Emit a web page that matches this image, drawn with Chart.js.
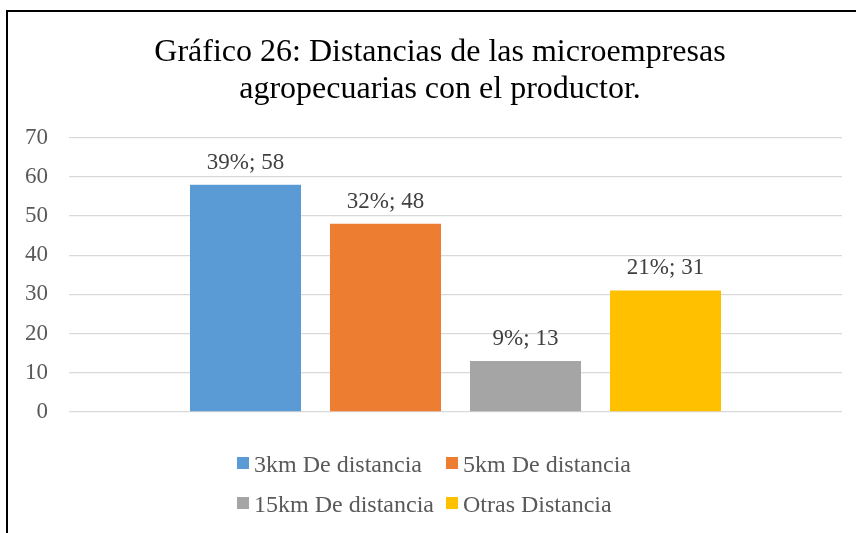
<!DOCTYPE html>
<html>
<head>
<meta charset="utf-8">
<script src="https://cdn.jsdelivr.net/npm/chart.js@4.4.0/dist/chart.umd.min.js"></script>
<style>
  body { margin: 0; background: #fff; overflow: hidden; }
  #wrap { position: relative; width: 856px; height: 533px; }
  #frame { position: absolute; left: 6px; top: 10px; width: 900px; height: 600px; border: 2px solid #000; }
  canvas { position: absolute; left: 0; top: 0; }
</style>
</head>
<body>
<div id="wrap">
  <div id="frame"></div>
  <canvas id="barChart" width="856" height="533"></canvas>
</div>
<script>
// Data
const seriesNames = ["3km De distancia", "5km De distancia", "15km De distancia", "Otras Distancia"];
const seriesValues = [58, 48, 13, 31];
const seriesPercents = ["39%", "32%", "9%", "21%"];
const seriesColors = ["#5B9BD5", "#ED7D31", "#A5A5A5", "#FFC000"];
const yTicks = [0, 10, 20, 30, 40, 50, 60, 70];

const serif = "'Liberation Serif', 'Times New Roman', serif";

// value labels above each bar, e.g. "39%; 58"
const barLabels = {
    id: 'barLabels',
    afterDatasetsDraw(chart) {
        const c = chart.ctx;
        c.save();
        c.font = "23px " + serif;
        c.fillStyle = "#404040";
        c.textAlign = "center";
        c.textBaseline = "alphabetic";
        chart.data.datasets.forEach((ds, i) => {
            const bar = chart.getDatasetMeta(i).data[0];
            c.fillText(seriesPercents[i] + "; " + ds.data[0], bar.x, bar.y - 16);
        });
        c.restore();
    }
};

// legend drawn as a 2x2 grid like the original
const gridLegend = {
    id: 'gridLegend',
    afterDraw(chart) {
        const c = chart.ctx;
        const cols = [237, 446];
        const rows = [465, 505];
        c.save();
        c.font = "24px " + serif;
        c.textBaseline = "alphabetic";
        c.textAlign = "left";
        chart.data.datasets.forEach((ds, i) => {
            const x = cols[i % 2];
            const y = rows[Math.floor(i / 2)];
            c.fillStyle = ds.backgroundColor;
            c.fillRect(x, y - 8, 12, 12);
            c.fillStyle = "#595959";
            c.fillText(ds.label, x + 17, y + 7);
        });
        c.restore();
    }
};

const ctx = document.getElementById("barChart").getContext("2d");

let chart = new Chart(ctx, {
    type: 'bar',
    data: {
        labels: [''],
        datasets: seriesNames.map((name, i) => ({
            label: name,
            data: [seriesValues[i]],
            backgroundColor: seriesColors[i],
            categoryPercentage: 0.7245,
            barPercentage: 0.793
        }))
    },
    options: {
        responsive: false,
        animation: false,
        layout: {
            padding: { left: 38, right: 14, top: 0, bottom: 121 }
        },
        plugins: {
            legend: { display: false },
            tooltip: { enabled: false },
            title: {
                display: true,
                text: ["Gráfico 26: Distancias de las microempresas", "agropecuarias con el productor."],
                color: "#000",
                font: { family: serif, size: 32, weight: 'normal', lineHeight: 1.15 },
                padding: { top: 34, bottom: 30 }
            }
        },
        scales: {
            x: { display: false },
            y: {
                min: 0,
                max: 70,
                afterBuildTicks: (axis) => { axis.ticks = yTicks.map(v => ({ value: v })); },
                afterFit: (axis) => { axis.width = 31; },
                border: { display: false },
                grid: { color: "#D9D9D9", lineWidth: 1.3, drawTicks: false },
                ticks: {
                    color: "#595959",
                    mirror: true,
                    crossAlign: 'far',
                    padding: -44,
                    font: { family: serif, size: 23 }
                }
            }
        }
    },
    plugins: [barLabels, gridLegend]
});
</script>
</body>
</html>
